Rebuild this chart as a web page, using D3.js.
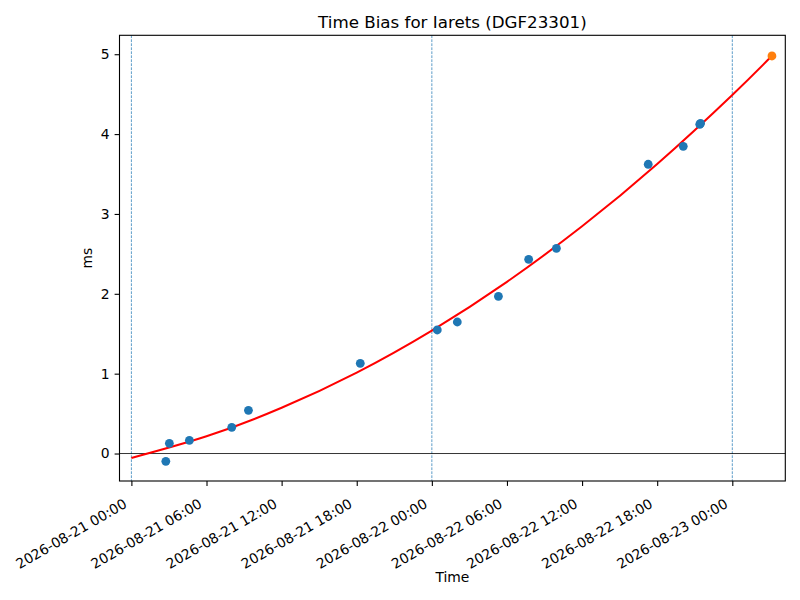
<!DOCTYPE html>
<html>
<head>
<meta charset="utf-8">
<script src="https://cdn.jsdelivr.net/npm/d3@7"></script>
<style>
    body { margin: 0; background: #fff; }
    text { font-family: 'DejaVu Sans', sans-serif; fill: #000; }
</style>
</head>
<body>
<svg width="800" height="600"></svg>
<script>
var measureTimes = ['2026-08-21 02:45', '2026-08-21 03:02', '2026-08-21 04:38', '2026-08-21 08:01',
    '2026-08-21 09:21', '2026-08-21 18:17', '2026-08-22 00:26', '2026-08-22 02:02',
    '2026-08-22 05:19', '2026-08-22 07:44', '2026-08-22 09:57', '2026-08-22 17:17',
    '2026-08-22 20:05', '2026-08-22 21:24', '2026-08-22 21:28'];
var measureValues = [-0.098, 0.128, 0.165, 0.328, 0.541, 1.130, 1.547, 1.647,
    1.969, 2.432, 2.570, 3.622, 3.847, 4.123, 4.135];

var fitTimes = ['2026-08-21 00:00', '2026-08-21 06:00', '2026-08-21 12:00', '2026-08-21 18:00',
    '2026-08-22 00:00', '2026-08-22 06:00', '2026-08-22 12:00', '2026-08-22 18:00',
    '2026-08-23 00:00', '2026-08-23 03:10'];
var fitValues = [-0.055, 0.216, 0.573, 1.014, 1.54, 2.15, 2.845, 3.625, 4.49, 4.98];

var predictTime = ['2026-08-23 03:10'];
var predictValue = [4.978];

var dayLines = ['2026-08-21 00:00', '2026-08-22 00:00', '2026-08-23 00:00'];
var yTicks = [0, 1, 2, 3, 4, 5];

var parseTime = d3.utcParse('%Y-%m-%d %H:%M'),
    formatTime = d3.utcFormat('%Y-%m-%d %H:%M');

var plotLeft = 119.5, plotRight = 785.3, plotTop = 35.3, plotBottom = 481;

var svg = d3.select('svg');

var x = d3.scaleUtc()
    .domain([new Date(Date.UTC(2026, 7, 20, 23, 3)), new Date(Date.UTC(2026, 7, 23, 4, 14))])
    .range([plotLeft, plotRight]);

var y = d3.scaleLinear()
    .domain([-0.344, 5.237])
    .range([plotBottom, plotTop]);

// day separators
svg.append('g')
    .selectAll('line')
    .data(dayLines)
    .join('line')
    .attr('x1', function (d) { return x(parseTime(d)); })
    .attr('x2', function (d) { return x(parseTime(d)); })
    .attr('y1', plotTop)
    .attr('y2', plotBottom)
    .attr('stroke', '#1f77b4')
    .attr('stroke-opacity', 0.9)
    .attr('stroke-width', 0.8)
    .attr('stroke-dasharray', '2.8,1.2');

// zero line
svg.append('line')
    .attr('x1', plotLeft)
    .attr('x2', plotRight)
    .attr('y1', y(0))
    .attr('y2', y(0))
    .attr('stroke', '#000')
    .attr('stroke-width', 0.8);

// fitted curve
var fitLine = d3.line()
    .x(function (d, i) { return x(parseTime(fitTimes[i])); })
    .y(function (d) { return y(d); })
    .curve(d3.curveNatural);

svg.append('path')
    .datum(fitValues)
    .attr('d', fitLine)
    .attr('fill', 'none')
    .attr('stroke', '#ff0000')
    .attr('stroke-width', 2);

// measurements
svg.append('g')
    .selectAll('circle')
    .data(measureValues)
    .join('circle')
    .attr('cx', function (d, i) { return x(parseTime(measureTimes[i])); })
    .attr('cy', function (d) { return y(d); })
    .attr('r', 4.4)
    .attr('fill', '#1f77b4');

svg.append('g')
    .selectAll('circle')
    .data(predictValue)
    .join('circle')
    .attr('cx', function (d, i) { return x(parseTime(predictTime[i])); })
    .attr('cy', function (d) { return y(d); })
    .attr('r', 4.4)
    .attr('fill', '#ff7f0e');

// axes
var xAxis = d3.axisBottom(x)
    .ticks(d3.utcHour.every(6))
    .tickSize(4.9)
    .tickPadding(3)
    .tickFormat(formatTime);

var gx = svg.append('g')
    .attr('transform', 'translate(0,' + plotBottom + ')')
    .call(xAxis);

gx.selectAll('.tick line').attr('stroke-width', 1.1);
gx.selectAll('.tick text')
    .attr('font-size', '13.9px')
    .attr('text-anchor', 'end')
    .attr('y', 0)
    .attr('dy', '0.72em')
    .attr('transform', 'translate(-9,17) rotate(-30)');
gx.select('.domain').remove();

var yAxis = d3.axisLeft(y)
    .tickValues(yTicks)
    .tickFormat(d3.format('d'))
    .tickSize(4.9)
    .tickPadding(4.9);

var gy = svg.append('g')
    .attr('transform', 'translate(' + plotLeft + ',0)')
    .call(yAxis);

gy.selectAll('.tick line').attr('stroke-width', 1.1);
gy.selectAll('.tick text').attr('font-size', '13.9px');
gy.select('.domain').remove();

// frame
svg.append('rect')
    .attr('x', plotLeft)
    .attr('y', plotTop)
    .attr('width', plotRight - plotLeft)
    .attr('height', plotBottom - plotTop)
    .attr('fill', 'none')
    .attr('stroke', '#000')
    .attr('stroke-width', 1.1);

svg.append('text')
    .attr('x', (plotLeft + plotRight) / 2)
    .attr('y', 28)
    .attr('text-anchor', 'middle')
    .attr('font-size', '16.7px')
    .text('Time Bias for Iarets (DGF23301)');

svg.append('text')
    .attr('x', (plotLeft + plotRight) / 2)
    .attr('y', 582)
    .attr('text-anchor', 'middle')
    .attr('font-size', '13.9px')
    .text('Time');

svg.append('text')
    .attr('transform', 'translate(92,' + ((plotTop + plotBottom) / 2) + ') rotate(-90)')
    .attr('text-anchor', 'middle')
    .attr('font-size', '13.9px')
    .text('ms');
</script>
</body>
</html>
